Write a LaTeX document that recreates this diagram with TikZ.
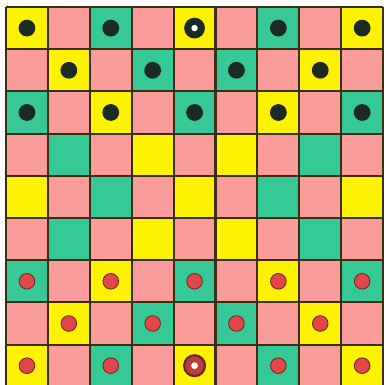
\documentclass[tikz,border=0pt]{standalone}
\usepackage{xcolor}
\usepackage{tikz}

\definecolor{sqY}{HTML}{FFF200}
\definecolor{sqP}{HTML}{F99C9A}
\definecolor{sqG}{HTML}{36C996}
\definecolor{gridline}{HTML}{3A2E14}
\definecolor{manB}{HTML}{1C2A24}
\definecolor{manR}{HTML}{E0474A}
\definecolor{rimR}{HTML}{6A2A1C}

\begin{document}
\begin{tikzpicture}[
    x=0.025cm, y=0.025cm,
    % Styles
    bman/.style={circle, fill=manB, inner sep=0pt, minimum size=0.42cm},
    rman/.style={circle, draw=rimR, line width=0.6pt, fill=manR, inner sep=0pt, minimum size=0.39cm},
    bking/.style={circle, fill=manB, inner sep=0pt, minimum size=0.52cm},
    rking/.style={circle, draw=rimR, line width=1.6pt, fill=manR!85!black, inner sep=0pt, minimum size=0.52cm},
    crown/.style={circle, fill=white, inner sep=0pt, minimum size=#1},
]
\def\cx{41.9}
\def\cy{42.2}

\useasboundingbox (0,0) rectangle (386,385);
\clip (0,0) rectangle (386,385);

% ── Squares ──
\foreach \row [count=\r] in {{Y,P,G,P,Y,P,G,P,Y},{P,Y,P,G,P,G,P,Y,P},{G,P,Y,P,G,P,Y,P,G},
                             {P,G,P,Y,P,Y,P,G,P},{Y,P,G,P,Y,P,G,P,Y},{P,G,P,Y,P,Y,P,G,P},
                             {G,P,Y,P,G,P,Y,P,G},{P,Y,P,G,P,G,P,Y,P},{Y,P,G,P,Y,P,G,P,Y}}
  \foreach \k [count=\c] in \row
    \fill[sq\k] ({6+(\c-1)*\cx},{378-(\r-1)*\cy}) rectangle +(\cx,-\cy);

% ── Grid lines ──
\foreach \i in {0,...,9} {
  \draw[gridline, line width=1.5pt] ({6+\i*\cx},378) -- ({6+\i*\cx},{378-9*\cy});
  \draw[gridline, line width=1.5pt] (6,{378-\i*\cy}) -- ({6+9*\cx},{378-\i*\cy});
}

% ── Dark men ──
\foreach \r/\c in {1/1,1/3,1/7,1/9,2/2,2/4,2/6,2/8,3/1,3/3,3/5,3/7,3/9}
  \node[bman] (b-\r-\c) at ({6+(\c-0.5)*\cx},{378-(\r-0.5)*\cy}) {};
\node[bking] (bk) at ({6+4.5*\cx},{378-0.5*\cy}) {};
\node[crown=0.16cm] (bkc) at (bk) {};

% ── Red men ──
\foreach \r/\c in {7/1,7/3,7/5,7/7,7/9,8/2,8/4,8/6,8/8,9/1,9/3,9/7,9/9}
  \node[rman] (r-\r-\c) at ({6+(\c-0.5)*\cx},{378-(\r-0.5)*\cy}) {};
\node[rking] (rk) at ({6+4.5*\cx},{378-8.5*\cy}) {};
\node[crown=0.17cm] (rkc) at (rk) {};

\end{tikzpicture}
\end{document}
